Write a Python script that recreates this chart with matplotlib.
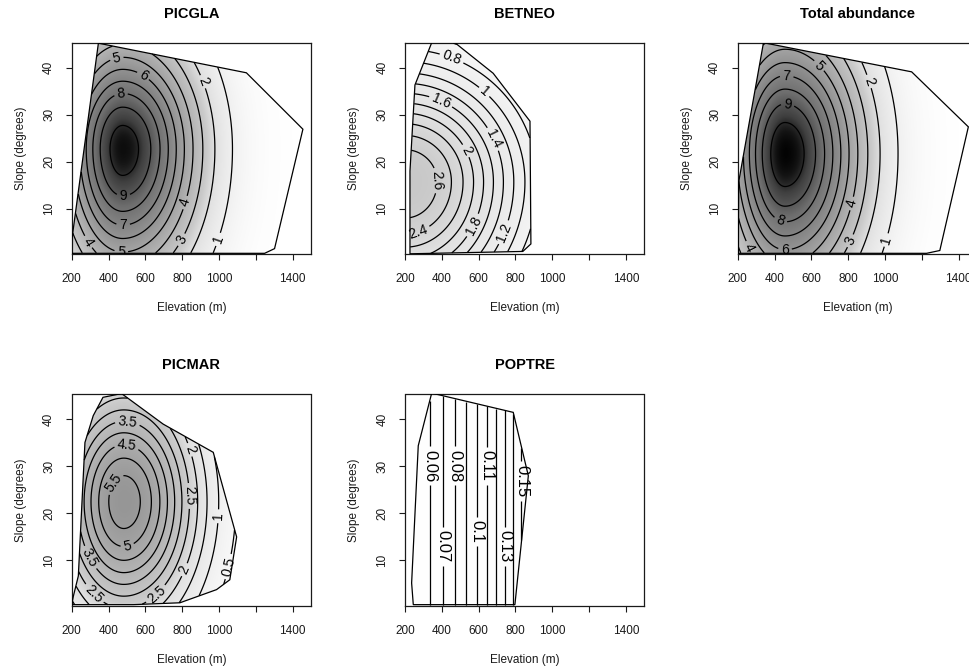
import numpy as np
import matplotlib.pyplot as plt
from matplotlib.colors import LinearSegmentedColormap, Normalize
from matplotlib.path import Path
from matplotlib.patches import Polygon

plt.rcParams["font.family"] = ["Liberation Sans", "DejaVu Sans"]

# fitted response surfaces (gaussian in elevation and slope)
species = ["PICGLA", "BETNEO", "Total abundance", "PICMAR", "POPTRE"]
peak = [10.5, 2.8, 10.7, 5.8, 0.363]
opt_elev = [477, 200, 457, 483, 2000]
opt_slope = [22.7, 15.7, 21.7, 22.5, 20.0]
tol_elev_lo = [220, 454, 210, 250, 878]
tol_elev_hi = [275, 454, 282, 275, 878]
tol_slope_lo = [18.0, 20.0, 19.0, 17.5, np.inf]
tol_slope_hi = [16.0, 17.8, 18.0, 17.0, np.inf]
level_lo = [1, 0.2, 1, 0.5, 0.06]
level_step = [1, 0.2, 1, 0.5, 0.01]

# sampled area of each panel (elevation, slope)
hull_picgla = [(200, 0.5), (200, 3.2), (345, 45.2), (1149, 38.9), (1456, 26.9),
               (1302, 1.5), (1248, 0.5)]
hull_betneo = [(227, 0.4), (227, 18), (254, 36.3), (345, 45.3), (471, 45.3),
               (679, 38.8), (879, 28.6), (884, 2.5), (840, 0.9)]
hull_total = [(203, 0.5), (205, 15.6), (340, 45.3), (1145, 39.1), (1453, 27.4),
              (1298, 1.1), (1226, 0.5)]
hull_picmar = [(200, 0.6), (209, 2.4), (236, 6.7), (272, 35.1), (317, 40.8),
               (370, 44.7), (471, 45.5), (697, 39.0), (969, 33.0), (1096, 15.0),
               (1059, 5.9), (987, 3.8), (788, 1.0), (535, 0.6)]
hull_poptre = [(245, 0.6), (236, 5.2), (272, 34.4), (345, 45.6), (788, 41.5),
               (870, 28.0), (797, 0.6)]
hulls = [hull_picgla, hull_betneo, hull_total, hull_picmar, hull_poptre]

x_ticks = [200, 400, 600, 800, 1000, 1200, 1400]
x_tick_labels = ["200", "400", "600", "800", "1000", "", "1400"]
y_ticks = [10, 20, 30, 40]

# where the contour labels sit in the reference (elevation, slope)
label_spots = [
    [(443, 42.3), (596, 38.8), (470, 33.5), (479, 14.3), (479, 7.5), (470, 1.5),
     (272, 2.5), (805, 3.2), (832, 11.1), (913, 37.0), (986, 3.6)],
    [(444, 41), (634, 35), (390, 32.4), (689, 25), (536, 22.4), (380, 16),
     (272, 4.9), (553, 6.8), (716, 5.3)],
    [(647, 40.6), (466, 38.1), (466, 30.6), (439, 8.2), (457, 1.5), (249, 1.5),
     (909, 37.0), (819, 11.1), (810, 3.2), (1018, 3.2)],
    [(506, 40.4), (497, 34.0), (424, 26.6), (497, 14.1), (298, 10.6), (334, 3.4),
     (650, 3.2), (823, 33.3), (823, 23.7), (832, 7.7), (995, 19.4), (1040, 8.8)],
    [(336, 30.1), (490, 30.1), (662, 30.1), (417, 13.0), (607, 16.2), (752, 13.0),
     (833, 26.9)],
]
label_size = [10, 10, 10, 10, 12]

W, H = 969, 670
BW, BH = 239.3, 211.8
boxes = [(71.7, 42.7), (405, 42.7), (737.7, 42.7), (71.7, 394.5), (405, 394.5)]

shade = LinearSegmentedColormap.from_list("shade", [
    (0.0, (1.0, 1.0, 1.0)), (0.185, (0.88, 0.88, 0.88)), (0.25, (0.79, 0.79, 0.79)),
    (0.52, (0.60, 0.60, 0.60)), (0.77, (0.43, 0.43, 0.43)), (0.9, (0.25, 0.25, 0.25)),
    (0.96, (0.08, 0.08, 0.08)), (1.0, (0.0, 0.0, 0.0))])
norm = Normalize(0, 10.8)

xg = np.linspace(200, 1500, 651)
yg = np.linspace(0, 46, 461)
X, Y = np.meshgrid(xg, yg)

fig = plt.figure(figsize=(W / 100, H / 100), dpi=100)

for i, name in enumerate(species):
    left, top = boxes[i]
    ax = fig.add_axes([left / W, 1 - (top + BH) / H, BW / W, BH / H])

    sx = np.where(X < opt_elev[i], tol_elev_lo[i], tol_elev_hi[i])
    sy = np.where(Y < opt_slope[i], tol_slope_lo[i], tol_slope_hi[i])
    Z = peak[i] * np.exp(-0.5 * ((X - opt_elev[i]) / sx) ** 2
                         - 0.5 * ((Y - opt_slope[i]) / sy) ** 2)

    hull = np.array(hulls[i], dtype=float)
    inside = Path(hull).contains_points(np.c_[X.ravel(), Y.ravel()]).reshape(X.shape)
    outline = Polygon(hull, closed=True, fill=False, edgecolor="black", lw=0.9, zorder=4)
    ax.add_patch(outline)

    im = ax.imshow(Z, extent=(200, 1500, 0, 46), origin="lower", cmap=shade, norm=norm,
                   aspect="auto", interpolation="bilinear", zorder=1)
    im.set_clip_path(outline)

    levels = np.arange(level_lo[i], peak[i], level_step[i])
    cs = ax.contour(X, Y, np.where(inside, Z, np.nan), levels=levels,
                    colors="black", linewidths=0.9, zorder=3)
    ax.clabel(cs, fmt=lambda v: f"{round(v, 3):g}", fontsize=label_size[i], inline=True,
              inline_spacing=3, manual=label_spots[i])

    ax.set_xlim(200, 1500)
    ax.set_ylim(0.25, 45.3)
    ax.set_xticks(x_ticks, x_tick_labels)
    ax.set_yticks(y_ticks, [str(t) for t in y_ticks], rotation=90, va="center")
    ax.tick_params(direction="out", length=4.5, width=0.8, labelsize=8.5,
                   colors="#1a1a1a")
    ax.tick_params(axis="x", pad=9)
    ax.tick_params(axis="y", pad=7.5)
    for s in ax.spines.values():
        s.set_linewidth(0.9)
        s.set_color("#1a1a1a")

    ax.set_title(name, fontsize=10.5, fontweight="bold", pad=18)
    ax.set_xlabel("Elevation (m)", fontsize=8.5, color="#1a1a1a")
    ax.xaxis.set_label_coords(0.5, -48 / BH)
    ax.set_ylabel("Slope (degrees)", fontsize=8.5, color="#1a1a1a")
    ax.yaxis.set_label_coords(-45 / BW, 0.5)

fig.savefig("out.png", dpi=100)
